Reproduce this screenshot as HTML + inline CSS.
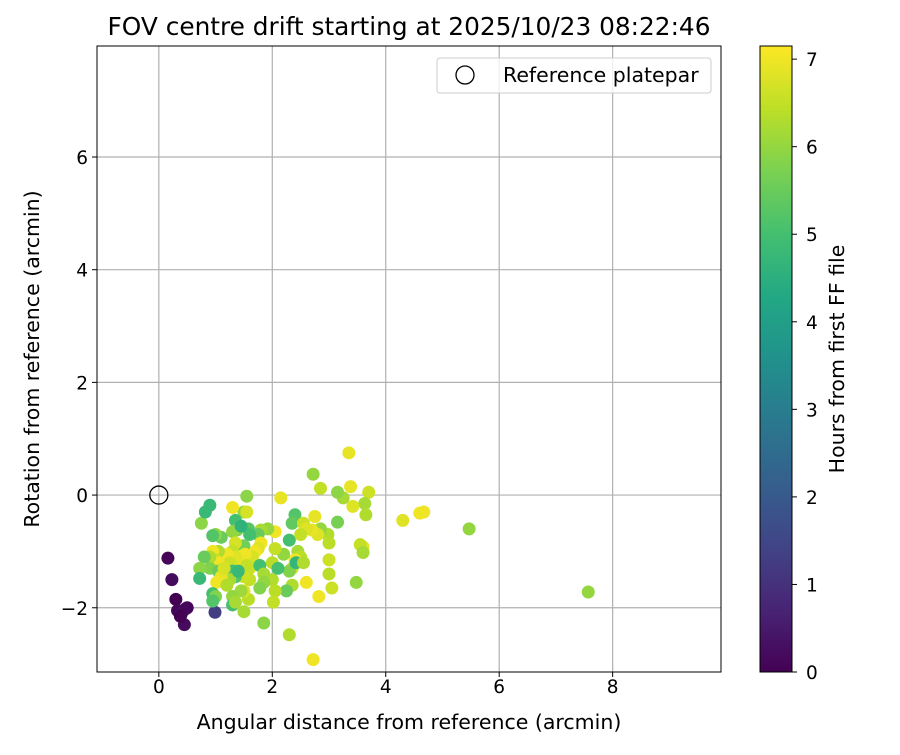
<!DOCTYPE html>
<html><head><meta charset="utf-8"><style>
body{margin:0;background:#fff}
svg{font-family:"DejaVu Sans","Liberation Sans",sans-serif}
</style></head><body>
<svg id="chart" width="900" height="750">
<defs>
<linearGradient id="vir" x1="0" y1="1" x2="0" y2="0">
<stop offset="0" stop-color="#440154"/><stop offset="0.1" stop-color="#482475"/><stop offset="0.2" stop-color="#414487"/><stop offset="0.3" stop-color="#355f8d"/><stop offset="0.4" stop-color="#2a788e"/><stop offset="0.5" stop-color="#21918c"/><stop offset="0.6" stop-color="#22a884"/><stop offset="0.7" stop-color="#44bf70"/><stop offset="0.8" stop-color="#7ad151"/><stop offset="0.9" stop-color="#bddf26"/><stop offset="1" stop-color="#fde725"/>
</linearGradient>
<clipPath id="plotclip"><rect x="97" y="46" width="624" height="626"/></clipPath>
</defs>
<text x="409" y="35" font-size="24.8" text-anchor="middle">FOV centre drift starting at 2025/10/23 08:22:46</text>
<g id="grid"></g>
<g id="marks" clip-path="url(#plotclip)"></g>
<rect x="97" y="46" width="624" height="626" fill="none" stroke="#000" stroke-width="1"/>
<g id="ticks"></g>
<text x="409" y="729" font-size="20.5" text-anchor="middle">Angular distance from reference (arcmin)</text>
<text transform="translate(39,359) rotate(-90)" font-size="20.5" text-anchor="middle">Rotation from reference (arcmin)</text>
<g>
<rect x="437" y="58" width="274" height="35" rx="3" fill="#fff" fill-opacity="0.8" stroke="#ccc"/>
<circle cx="465" cy="75" r="9" fill="none" stroke="#000" stroke-width="1.3"/>
<text x="503" y="82" font-size="20.5">Reference platepar</text>
</g>
<rect x="760" y="46" width="32" height="626" fill="url(#vir)" stroke="#000" stroke-width="1"/>
<g id="cticks"></g>
<text transform="translate(844,359) rotate(-90)" font-size="20.5" text-anchor="middle">Hours from first FF file</text>
</svg>
<script>
const xTicks=[0,2,4,6,8];
const yTicks=[-2,0,2,4,6];
const cTicks=[0,1,2,3,4,5,6,7];
const refPoint=[0,0];
const xs=[0.16,0.23,0.3,0.33,0.4,0.47,0.5,0.45,0.38,0.99,
7.57,5.47,4.67,4.6,4.3,3.7,3.63,3.65,3.6,3.55,3.6,3.48,3.42,3.35,3.38,3.25,3.15,3.15,2.98,3.0,3.0,3.0,3.05,2.85,2.8,2.72,2.85,2.75,2.7,2.82,2.72,2.3,2.15,2.4,2.35,2.3,2.55,2.6,2.5,2.45,2.5,2.4,2.35,2.3,2.35,2.25,2.6,2.2,2.05,2.05,2.0,2.0,2.05,2.02,1.92,1.8,1.75,1.8,1.75,1.7,1.65,1.6,1.6,1.78,1.85,1.85,1.78,1.85,1.55,1.5,1.55,1.58,1.6,1.5,1.52,1.45,1.55,1.5,1.58,1.5,1.45,1.5,1.35,1.3,1.38,1.3,1.35,1.3,1.35,1.2,1.25,1.3,1.35,1.25,1.3,1.3,1.35,1.1,1.0,0.95,1.05,0.95,1.0,1.05,0.9,0.9,1.05,1.1,1.02,0.95,1.0,0.95,0.8,0.72,0.75,0.82,0.9,0.72,1.15,1.2,1.4,1.45,2.42,2.1,2.55];
const ys=[-1.12,-1.5,-1.85,-2.05,-2.1,-2.02,-2.0,-2.3,-2.15,-2.08,
-1.72,-0.6,-0.3,-0.32,-0.45,0.05,-0.15,-0.35,-0.92,-0.88,-1.02,-1.55,-0.2,0.75,0.15,-0.05,0.05,-0.48,-0.7,-0.85,-1.15,-1.4,-1.65,-0.6,-0.7,0.37,0.12,-0.38,-0.62,-1.8,-2.92,-2.48,-0.05,-0.35,-0.5,-0.8,-0.5,-0.6,-0.7,-1.0,-1.1,-1.15,-1.3,-1.35,-1.6,-1.7,-1.55,-1.05,-0.65,-0.95,-1.2,-1.5,-1.7,-1.9,-0.6,-0.62,-0.7,-0.85,-0.95,-1.0,-1.1,-1.3,-1.5,-1.25,-1.4,-1.55,-1.65,-2.27,-0.02,-0.3,-0.3,-0.6,-0.7,-0.9,-1.05,-1.2,-1.25,-1.45,-1.85,-1.7,-1.7,-2.07,-0.45,-0.22,-0.62,-0.65,-0.85,-1.0,-1.1,-1.05,-1.2,-1.35,-1.45,-1.5,-1.8,-1.95,-1.9,-0.75,-0.7,-0.72,-1.0,-1.0,-1.15,-1.2,-1.1,-1.3,-1.35,-1.45,-1.55,-1.75,-1.8,-1.88,-1.1,-1.3,-0.5,-0.3,-0.18,-1.48,-1.3,-1.6,-1.35,-0.55,-1.2,-1.3,-1.2];
const hours=[0.1,0.2,0.0,0.1,0.2,0.3,0.1,0.2,0.0,1.3,
6.0,6.0,7.0,7.0,6.8,6.6,6.2,6.3,6.9,6.5,6.2,6.0,6.8,6.9,6.9,6.2,5.9,5.7,6.3,6.4,6.6,6.4,6.6,6.0,6.8,6.0,6.5,6.9,6.9,7.0,7.0,6.3,6.9,5.2,5.4,5.0,6.6,6.8,6.5,6.2,6.4,7.0,6.6,5.8,6.3,5.5,7.0,6.0,7.0,6.5,6.4,6.3,6.4,6.5,6.0,6.2,5.5,7.0,6.8,7.0,6.7,6.6,6.5,5.0,6.2,6.0,5.8,5.9,5.9,6.0,6.7,5.3,5.0,5.6,7.0,6.9,6.5,6.6,6.4,6.8,6.1,6.2,5.0,7.0,5.8,6.0,6.7,6.5,6.8,7.0,6.6,5.0,5.2,6.2,6.0,5.0,6.2,5.5,6.0,5.2,6.3,7.0,6.5,7.0,6.3,5.8,5.5,6.9,7.0,5.0,5.8,5.2,5.5,5.9,5.9,4.8,4.8,4.8,6.7,6.3,4.8,4.6,4.7,5.0,6.3];
const X0=97,X1=721,Y0=46,Y1=672;
const xMin=-1.09,xMax=9.91,yMin=-3.14,yMax=7.97,cMax=7.15;
const sx=v=>X0+(v-xMin)/(xMax-xMin)*(X1-X0);
const sy=v=>Y1-(v-yMin)/(yMax-yMin)*(Y1-Y0);
const sc=v=>672-v/cMax*626;
const vir=[[68,1,84],[72,36,117],[65,68,135],[53,95,141],[42,120,142],[33,145,140],[34,168,132],[68,191,112],[122,209,81],[189,223,38],[253,231,37]];
function color(t){let f=Math.max(0,Math.min(1,t/cMax))*10;let i=Math.min(9,Math.floor(f)),r=f-i;const a=vir[i],b=vir[i+1];return `rgb(${a.map((c,k)=>Math.round(c+(b[k]-c)*r)).join(',')})`;}
const NS='http://www.w3.org/2000/svg';
function mk(tag,attrs,parent){const e=document.createElementNS(NS,tag);for(const k in attrs)e.setAttribute(k,attrs[k]);parent.appendChild(e);return e;}
const grid=document.getElementById('grid'),ticks=document.getElementById('ticks'),marks=document.getElementById('marks'),cticks=document.getElementById('cticks');
xTicks.forEach(v=>{const x=sx(v);
const g=mk('line',{x1:x,x2:x,y1:Y0,y2:Y1,stroke:'#b0b0b0','stroke-width':1.2},grid);


mk('line',{x1:x,x2:x,y1:Y1,y2:Y1+5,stroke:'#000'},ticks);
const t=mk('text',{x:x,y:Y1+21,'text-anchor':'middle','font-size':18.5},ticks);t.textContent=v;

});
yTicks.forEach(v=>{const y=sy(v);
const g=mk('line',{x1:X0,x2:X1,y1:y,y2:y,stroke:'#b0b0b0','stroke-width':1.2},grid);


mk('line',{x1:X0-5,x2:X0,y1:y,y2:y,stroke:'#000'},ticks);
const t=mk('text',{x:X0-9,y:y+7,'text-anchor':'end','font-size':18.5},ticks);t.textContent=v<0?'\u2212'+(-v):v;

});
xs.forEach((v,i)=>{const c=mk('circle',{cx:sx(v),cy:sy(ys[i]),r:6.5,fill:color(hours[i])},marks);

});
const ref=mk('circle',{cx:sx(refPoint[0]),cy:sy(refPoint[1]),r:9,fill:'none',stroke:'#000','stroke-width':1.3},marks);


cTicks.forEach(v=>{const y=sc(v);
mk('line',{x1:792,x2:797,y1:y,y2:y,stroke:'#000'},cticks);
const t=mk('text',{x:806,y:y+7,'font-size':18.5},cticks);t.textContent=v;

});
</script>
</body></html>
